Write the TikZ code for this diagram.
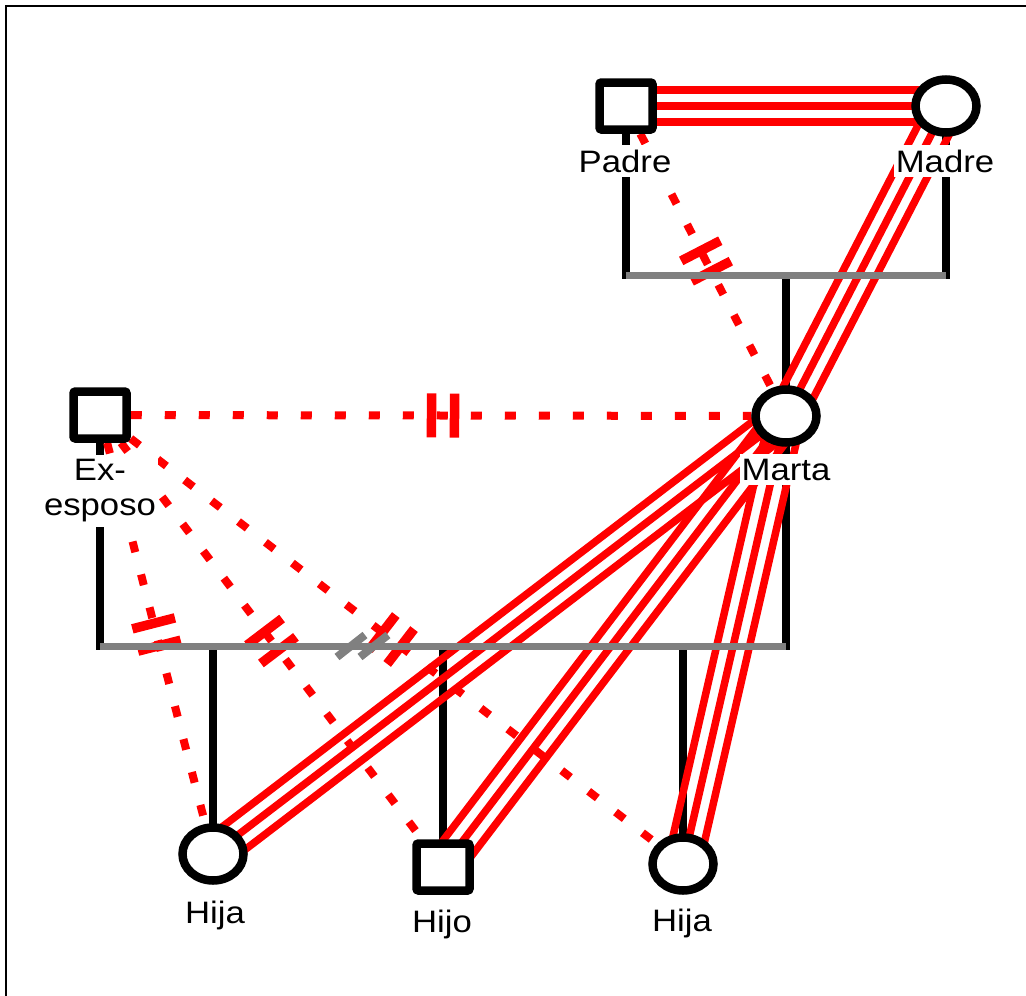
\documentclass[tikz,border=0pt]{standalone}
\usepackage{fontspec}
\setmainfont{Liberation Sans}[FakeStretch=1.12]
\usetikzlibrary{calc,shapes.geometric}
\pgfdeclarelayer{bg}
\pgfsetlayers{bg,main}
\definecolor{gline}{HTML}{808080}
\newcommand\lblfont{\fontsize{31}{35}\selectfont}
% three parallel red lines between two nodes
\newcommand\tripleline[2]{%
  \draw[rel] (#1.center) -- (#2.center);
  \draw[rel] ($(#1.center)!16pt!90:(#2.center)$) -- ($(#2.center)!16pt!-90:(#1.center)$);
  \draw[rel] ($(#1.center)!16pt!-90:(#2.center)$) -- ($(#2.center)!16pt!90:(#1.center)$);
}
% two red bars across the middle of a relation line
\newcommand\divmark[2]{%
  \coordinate (dmM) at ($(#1.center)!0.5!(#2.center)$);
  \coordinate (dmA) at ($(dmM)!11.5pt!(#1.center)$);
  \coordinate (dmB) at ($(dmM)!11.5pt!(#2.center)$);
  \draw[hashbar] ($(dmA)!22pt!90:(#2.center)$) -- ($(dmA)!22pt!-90:(#2.center)$);
  \draw[hashbar] ($(dmB)!22pt!90:(#2.center)$) -- ($(dmB)!22pt!-90:(#2.center)$);
}
\begin{document}
\begin{tikzpicture}[x=1pt,y=-1pt,
  blk/.style={line width=7.5pt, black},
  gry/.style={line width=7pt, gline},
  rel/.style={line width=7.5pt, red},
  dotrel/.style={line width=8pt, red, dash pattern=on 11pt off 23pt},
  hashbar/.style={line width=9.5pt, red},
  slashbar/.style={line width=8pt, gline},
  person/.style={draw=black, line width=8.5pt, fill=white, inner sep=0pt},
  male/.style={person, rectangle, rounded corners=2pt, minimum width=53pt, minimum height=47pt},
  female/.style={person, ellipse, minimum width=61pt, minimum height=53pt},
  lbl/.style={fill=white, inner xsep=2pt, inner ysep=5pt, anchor=base, font=\lblfont},
  frame/.style={line width=2pt, black}]
\useasboundingbox (0,0) rectangle (1026,996);
\draw[frame] (6,996) -- (6,6) -- (1026,6);

% persons
\node[male]   (Padre) at (626,106) {};
\node[female] (Madre) at (946,106) {};
\node[female] (Marta) at (786,416) {};
\node[male]   (Ex)    at (100,415) {};
\node[female] (HijaL) at (213,854) {};
\node[male]   (Hijo)  at (443,867) {};
\node[female] (HijaR) at (683,864) {};

% marriage line ends
\coordinate (m1L) at (626,275);
\coordinate (m1R) at (946,275);
\coordinate (m2L) at (100,646);
\coordinate (m2R) at (786,646);

\begin{pgfonlayer}{bg}
  % descent lines
  \draw[blk] (Padre.center) -- ($(Padre |- m1L)+(0,3.5)$);
  \draw[blk] (Madre.center) -- ($(Madre |- m1L)+(0,3.5)$);
  \draw[blk] (Marta |- m1L) -- (Marta.center);
  \draw[blk] (Ex.center) -- ($(Ex |- m2L)+(0,3.5)$);
  \draw[blk] (Marta.center) -- ($(Marta |- m2L)+(0,3.5)$);
  \draw[blk] (HijaL |- m2L) -- (HijaL.center);
  \draw[blk] (Hijo |- m2L) -- (Hijo.center);
  \draw[blk] (HijaR |- m2L) -- (HijaR.center);
  % close relations
  \tripleline{Padre}{Madre}
  \tripleline{Madre}{Marta}
  \tripleline{Marta}{HijaL}
  \tripleline{Marta}{Hijo}
  \tripleline{Marta}{HijaR}
  % distant / cut-off relations
  \draw[dotrel] (Ex) -- (Marta);
  \draw[dotrel] (Padre) -- (Marta);
  \draw[dotrel] (Ex) -- (HijaL);
  \draw[dotrel] (Ex) -- (Hijo);
  \draw[dotrel] (Ex) -- (HijaR);
  \divmark{Ex}{Marta}
  \divmark{Padre}{Marta}
  \divmark{Ex}{HijaL}
  \divmark{Ex}{Hijo}
  \divmark{Ex}{HijaR}
  % marriage lines
  \draw[gry] (m1L) -- (m1R);
  \draw[gry] (m2L) -- (m2R);
  \draw[slashbar] (337,657) -- (365,635);
  \draw[slashbar] (360,657) -- (388,635);
\end{pgfonlayer}

% labels
\node[lbl] (lPadre) at (625,172) {Padre};
\node[lbl] (lMadre) at (945,172) {Madre};
\node[lbl] (lMarta) at (786,480) {Marta};
\node[fill=white, inner xsep=2pt, inner ysep=5pt, font=\lblfont, align=center] (lEx) at (100,491) {Ex-\\esposo};
\node[lbl] (lHijaL) at (215,923) {Hija};
\node[lbl] (lHijo)  at (442,932) {Hijo};
\node[lbl] (lHijaR) at (682,931) {Hija};
\end{tikzpicture}
\end{document}
